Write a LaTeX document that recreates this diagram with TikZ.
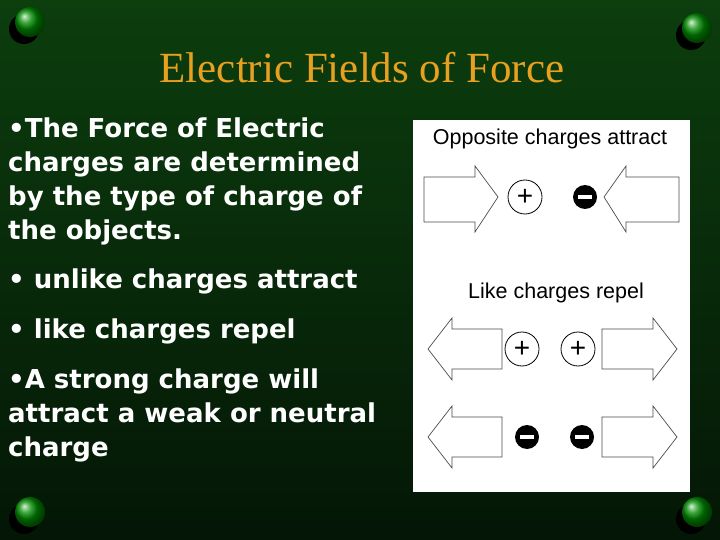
\documentclass[tikz,border=0pt]{standalone}
\usepackage{fontspec}
\setmainfont{Liberation Serif}
\newfontfamily\bul{DejaVu Sans}
\newfontfamily\arl{Liberation Sans}
\definecolor{bgtop}{RGB}{12,62,14}
\definecolor{bgbot}{RGB}{4,22,6}
\definecolor{ttl}{RGB}{232,160,32}
\begin{document}
\begin{tikzpicture}[x=1pt,y=-1pt,
  ball/.style={circle,minimum size=30pt,inner sep=0pt,ball color=green!55!black},
  shadow/.style={fill=black,circle,minimum size=30pt,inner sep=0pt},
  bl/.style={text=white,font=\bul\bfseries\fontsize{26}{34}\selectfont,anchor=north west,align=left,inner sep=0pt},
  lab/.style={font=\arl\fontsize{21.5}{24}\selectfont,text=black},
  arr/.style={draw=black!70,line width=0.7pt,fill=white},
  poscharge/.style={circle,draw=black,line width=0.8pt,minimum size=34pt,inner sep=0pt,font=\arl\fontsize{28}{28}\selectfont},
  negcharge/.style={circle,fill=black,minimum size=24pt,inner sep=0pt},
  bar/.style={white,line width=4pt}]
\fill[top color=bgtop,bottom color=bgbot] (0,0) rectangle (720,540);
\useasboundingbox (0,0) rectangle (720,540);
\foreach \n/\x/\y in {a/30/22,b/697/28,c/30/512,d/697/512}{
  \node[shadow] (s\n) at (\x-6,\y+7) {};
  \node[ball] (b\n) at (\x,\y) {};}
\node[text=ttl,font=\fontsize{43}{48}\selectfont] (title) at (362,68) {Electric Fields of Force};
\node[bl] (t1) at (8,118) {•The Force of Electric\\charges are determined\\by the type of charge of\\the objects.};
\node[bl] (t2) at (8,269) {• unlike charges attract};
\node[bl] (t3) at (8,319) {• like charges repel};
\node[bl] (t4) at (8,369) {•A strong charge will\\attract a weak or neutral\\charge};
\fill[white] (413,120) rectangle (690,492);
\node[lab] (l1) at (550,139) {Opposite charges attract};
\node[lab] (l2) at (556,293) {Like charges repel};
% row1
\draw[arr] (424,177)--(475,177)--(475,166)--(498,197)--(475,232)--(475,222)--(424,222)--cycle;
\draw[arr] (679,177)--(626,177)--(626,166)--(604,197)--(626,232)--(626,222)--(679,222)--cycle;
\node[poscharge] (p1) at (525,197) {+};
\node[negcharge] (n1) at (585,197) {};
\draw[bar] (n1.center)++(-7,0) -- ++(14,0);
% row2
\draw[arr] (502,329)--(452,329)--(452,318)--(428,349)--(452,380)--(452,369)--(502,369)--cycle;
\draw[arr] (602,329)--(653,329)--(653,318)--(677,349)--(653,380)--(653,369)--(602,369)--cycle;
\node[poscharge] (p2) at (522,349) {+};
\node[poscharge] (p3) at (578,349) {+};
% row3
\draw[arr] (502,417)--(452,417)--(452,406)--(428,437)--(452,468)--(452,457)--(502,457)--cycle;
\draw[arr] (602,417)--(653,417)--(653,406)--(677,437)--(653,468)--(653,457)--(602,457)--cycle;
\node[negcharge] (n2) at (527,437) {};
\node[negcharge] (n3) at (582,437) {};
\draw[bar] (n2.center)++(-7,0) -- ++(14,0);
\draw[bar] (n3.center)++(-7,0) -- ++(14,0);
\end{tikzpicture}
\end{document}
